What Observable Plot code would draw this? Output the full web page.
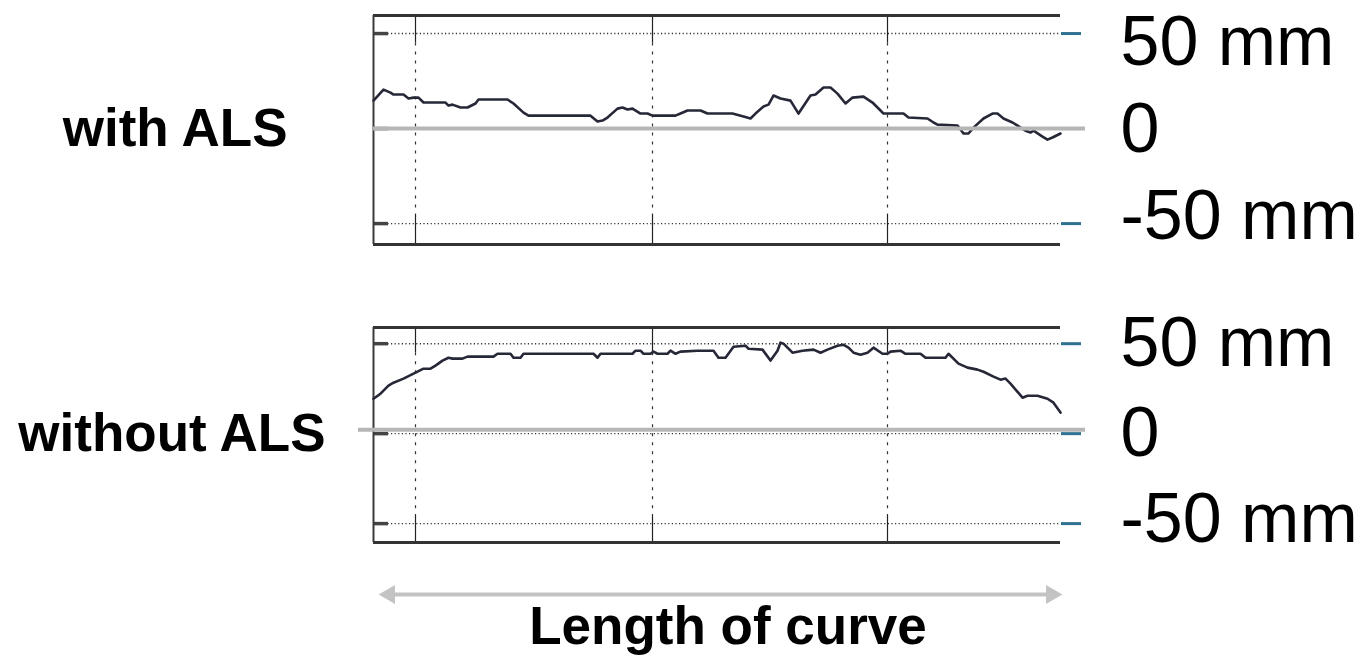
<!DOCTYPE html>
<html><head><meta charset="utf-8">
<script src="https://cdn.jsdelivr.net/npm/d3@7"></script>
<script src="https://cdn.jsdelivr.net/npm/@observablehq/plot@0.6"></script>
<style>
html,body{margin:0;padding:0;background:#fff;}
#wrap{position:relative;width:1369px;height:669px;overflow:hidden;background:#fff;}
#wrap > svg, #wrap > figure{position:absolute;left:0;margin:0;}
</style></head>
<body><div id="wrap"></div>
<script>
// Position along the curve (arbitrary units) and deviation in mm
const curveLength = [0, 687];
const gridX = [42, 279, 514];
const yTicks = [-50, 0, 50];
const panelLabels = ["with ALS", "without ALS"];
const axisTitle = "Length of curve";

const withALS_x = [0,10,17,20,30,35,40,45,50,72,75,79,87,94,102,105,134,140,150,155,217,224,229,234,244,249,254,259,267,274,279,302,307,314,327,334,359,370,377,382,390,395,400,407,417,425,437,442,450,457,464,472,479,490,499,507,510,530,535,554,560,564,584,590,595,600,610,619,624,630,639,644,652,657,660,669,674,679,687];
const withALS_y = [14.7,20.5,18.9,17.9,17.9,15.8,16.3,16.3,13.7,13.7,12.1,12.6,11.1,11.1,13.2,15.3,15.3,13.2,8.4,6.8,6.8,3.7,4.2,5.8,10.5,11.1,10.0,10.5,7.9,7.9,6.8,6.8,7.9,9.5,9.5,7.9,7.9,6.3,5.3,7.9,11.6,12.6,17.4,15.8,14.7,7.9,17.4,17.9,21.6,21.6,18.4,13.2,16.3,16.8,13.7,9.5,7.9,7.9,5.8,5.3,3.2,2.1,1.6,-2.6,-2.6,0.5,5.3,7.9,7.9,5.3,3.2,1.6,-1.1,-2.1,-1.1,-4.2,-5.8,-4.7,-2.6];

const withoutALS_x = [0,7,15,20,30,42,50,57,62,69,75,79,89,94,120,124,137,140,147,150,220,224,227,259,262,267,270,277,280,284,294,297,302,307,324,340,345,352,360,372,375,389,397,404,407,410,419,429,440,447,454,464,470,475,480,487,494,500,509,514,517,527,532,547,552,572,575,585,594,604,610,620,627,632,637,649,654,664,674,680,687];
const withoutALS_y = [19.4,22.2,26.7,28.3,30.6,33.9,36.1,36.1,37.8,40.6,42.2,41.7,41.7,42.8,42.8,44.4,44.4,42.2,42.2,44.4,44.4,42.2,44.4,44.4,46.1,46.1,44.4,44.4,45.6,44.4,44.4,46.1,44.4,45.6,46.1,46.1,42.2,42.2,48.3,48.9,47.2,46.7,40.6,46.1,50.6,50.0,45.0,46.1,46.7,45.0,46.7,48.9,49.4,47.8,45.0,43.9,45.0,47.8,44.4,44.4,45.6,46.1,44.4,44.4,42.2,42.2,44.4,38.9,36.7,35.6,34.4,31.7,30.0,30.6,27.8,20.0,21.1,21.1,19.4,17.2,11.7];

const topDomain = [-61, 59.5];
const bottomDomain = [-60.5, 59];

const FONT = '"Liberation Sans", Arial, Helvetica, sans-serif';
const W = 1369, ML = 373, MR = 309;
const fmt = d => d === 0 ? "0" : `${d} mm`;

function panel({xs, ys, domain, height, mTop, mBottom, label, labelDx, zeroDy, zeroInsetLeft, tickTextDy}) {
  const data = xs.map((x, i) => ({x, y: ys[i]}));
  const top = domain[1], bot = domain[0];
  return Plot.plot({
    width: W, height, marginLeft: ML, marginRight: MR, marginTop: mTop, marginBottom: mBottom,
    x: {domain: curveLength, axis: null},
    y: {domain, axis: null},
    style: {background: "transparent", fontFamily: FONT, overflow: "visible"},
    marks: [
      Plot.ruleY(yTicks, {stroke: "#333", strokeWidth: 1.4, strokeDasharray: "1.2,2.4"}),
      Plot.ruleX(gridX, {y1: top, y2: 45, stroke: "#222", strokeWidth: 1.2}),
      Plot.ruleX(gridX, {y1: 45, y2: -45, stroke: "#333", strokeWidth: 1.2, strokeDasharray: "3,6"}),
      Plot.ruleX(gridX, {y1: -45, y2: bot, stroke: "#222", strokeWidth: 1.2}),
      Plot.tickY(yTicks, {stroke: "#444", strokeWidth: 3.5, insetRight: (W - ML - MR) - 15}),
      Plot.ruleY(domain, {stroke: "#333", strokeWidth: 3}),
      Plot.ruleX([curveLength[0]], {stroke: "#3a3a3a", strokeWidth: 2}),
      Plot.line(data, {x: "x", y: "y", stroke: "#262838", strokeWidth: 2.6}),
      Plot.axisY(yTicks, {anchor: "right", label: null, tickSize: 20, stroke: "#2e7190", strokeWidth: 3, text: null}),
      ...yTicks.map((t, i) => Plot.text([t], {y: d => d, frameAnchor: "right", text: fmt, textAnchor: "start",
        dx: 60, dy: tickTextDy[i], fill: "#000", fontSize: 70, fontFamily: FONT})),
      Plot.ruleY([0], {stroke: "#b6b6b6", strokeWidth: 4, insetLeft: zeroInsetLeft, insetRight: -25, dy: zeroDy}),
      Plot.text([label], {x: () => curveLength[0], y: () => 0, text: d => d, textAnchor: "end", dx: labelDx,
        fontSize: 53, fontWeight: "bold", fill: "#000", fontFamily: FONT})
    ]
  });
}

const wrap = document.getElementById("wrap");

const p1 = panel({xs: withALS_x, ys: withALS_y, domain: topDomain, height: 260, mTop: 15, mBottom: 16,
  label: panelLabels[0], labelDx: -86, zeroDy: 0, zeroInsetLeft: 0, tickTextDy: [-7, 1, 9]});
p1.style.top = "0px";
wrap.appendChild(p1);

const p2 = panel({xs: withoutALS_x, ys: withoutALS_y, domain: bottomDomain, height: 250, mTop: 17, mBottom: 18,
  label: panelLabels[1], labelDx: -48, zeroDy: -4, zeroInsetLeft: -15, tickTextDy: [-4, 0, 0]});
p2.style.top = "310px";
wrap.appendChild(p2);

const p3 = Plot.plot({
  width: W, height: 109, marginLeft: ML, marginRight: MR, marginTop: 34, marginBottom: 0,
  x: {domain: curveLength, axis: null},
  y: {domain: [0, 1], axis: null},
  style: {background: "transparent", fontFamily: FONT, overflow: "visible"},
  marks: [
    Plot.ruleY([1], {stroke: "#c3c3c3", strokeWidth: 4, insetLeft: 12, insetRight: 6}),
    Plot.dot([curveLength[0]], {x: d => d, y: () => 1, symbol: "triangle", r: 7, fill: "#c3c3c3", rotate: -90, dx: 16}),
    Plot.dot([curveLength[1]], {x: d => d, y: () => 1, symbol: "triangle", r: 7, fill: "#c3c3c3", rotate: 90, dx: -9}),
    Plot.text([axisTitle], {frameAnchor: "bottom", text: d => d, dx: 11, dy: -26, fontSize: 53, fontWeight: "bold", fill: "#000", fontFamily: FONT})
  ]
});
p3.style.top = "560px";
wrap.appendChild(p3);
</script>
</body></html>
